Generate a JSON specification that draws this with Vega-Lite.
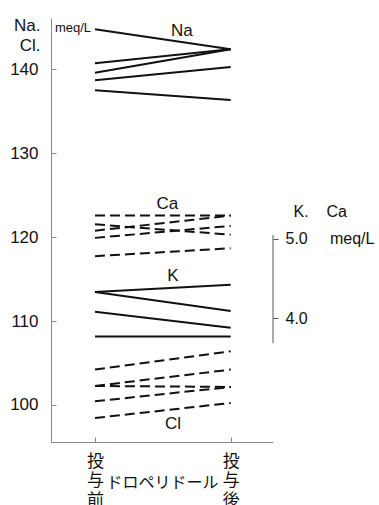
{
  "$schema": "https://vega.github.io/schema/vega-lite/v6.json",
  "width": 222,
  "height": 424,
  "autosize": "none",
  "padding": {"left": 51, "top": 18, "right": 106, "bottom": 63},
  "background": "white",
  "config": {
    "font": "Liberation Sans, Noto Sans CJK JP",
    "view": {"stroke": null},
    "axis": {"grid": false, "domainColor": "#888", "tickColor": "#888", "labelColor": "#111", "titleColor": "#111", "titleFontWeight": "normal"}
  },
  "datasets": {
    "left": [
      {"ion": "Na", "id": "Na1", "t": 0, "v": 144.77}, {"ion": "Na", "id": "Na1", "t": 1, "v": 142.39},
      {"ion": "Na", "id": "Na2", "t": 0, "v": 140.72}, {"ion": "Na", "id": "Na2", "t": 1, "v": 142.39},
      {"ion": "Na", "id": "Na3", "t": 0, "v": 139.59}, {"ion": "Na", "id": "Na3", "t": 1, "v": 142.39},
      {"ion": "Na", "id": "Na4", "t": 0, "v": 138.69}, {"ion": "Na", "id": "Na4", "t": 1, "v": 140.27},
      {"ion": "Na", "id": "Na5", "t": 0, "v": 137.5}, {"ion": "Na", "id": "Na5", "t": 1, "v": 136.34},
      {"ion": "Cl", "id": "Cl1", "t": 0, "v": 104.22}, {"ion": "Cl", "id": "Cl1", "t": 1, "v": 106.4},
      {"ion": "Cl", "id": "Cl2", "t": 0, "v": 102.27}, {"ion": "Cl", "id": "Cl2", "t": 1, "v": 104.22},
      {"ion": "Cl", "id": "Cl3", "t": 0, "v": 102.27}, {"ion": "Cl", "id": "Cl3", "t": 1, "v": 102.15},
      {"ion": "Cl", "id": "Cl4", "t": 0, "v": 100.44}, {"ion": "Cl", "id": "Cl4", "t": 1, "v": 102.15},
      {"ion": "Cl", "id": "Cl5", "t": 0, "v": 98.45}, {"ion": "Cl", "id": "Cl5", "t": 1, "v": 100.24}
    ],
    "right": [
      {"ion": "K", "id": "K1", "t": 0, "v": 4.33}, {"ion": "K", "id": "K1", "t": 1, "v": 4.42},
      {"ion": "K", "id": "K2", "t": 0, "v": 4.33}, {"ion": "K", "id": "K2", "t": 1, "v": 4.09},
      {"ion": "K", "id": "K3", "t": 0, "v": 4.08}, {"ion": "K", "id": "K3", "t": 1, "v": 3.88},
      {"ion": "K", "id": "K4", "t": 0, "v": 3.77}, {"ion": "K", "id": "K4", "t": 1, "v": 3.77},
      {"ion": "Ca", "id": "Ca1", "t": 0, "v": 5.29}, {"ion": "Ca", "id": "Ca1", "t": 1, "v": 5.29},
      {"ion": "Ca", "id": "Ca2", "t": 0, "v": 5.18}, {"ion": "Ca", "id": "Ca2", "t": 1, "v": 5.05},
      {"ion": "Ca", "id": "Ca3", "t": 0, "v": 5.1}, {"ion": "Ca", "id": "Ca3", "t": 1, "v": 5.29},
      {"ion": "Ca", "id": "Ca4", "t": 0, "v": 5.01}, {"ion": "Ca", "id": "Ca4", "t": 1, "v": 5.16},
      {"ion": "Ca", "id": "Ca5", "t": 0, "v": 4.78}, {"ion": "Ca", "id": "Ca5", "t": 1, "v": 4.88}
    ]
  },
  "layer": [
    {
      "layer": [
        {
          "data": {"name": "left"},
          "transform": [{"filter": "datum.ion == 'Na'"}],
          "mark": {"type": "line", "color": "#111", "strokeWidth": 2},
          "encoding": {
            "x": {
              "field": "t", "type": "quantitative",
              "scale": {"domain": [-0.324, 1.312], "nice": false, "zero": false},
              "axis": {
                "values": [0, 1],
                "labelExpr": "datum.value == 0 ? ['投','与','前'] : ['投','与','後']",
                "labelFontSize": 17, "labelLineHeight": 19.5, "labelFlush": false, "labelOverlap": false,
                "tickSize": -5, "labelPadding": 16,
                "title": "ドロペリドール", "titleFontSize": 16, "titleY": 40, "titleBaseline": "middle"
              }
            },
            "y": {
              "field": "v", "type": "quantitative",
              "scale": {"domain": [95.59, 146.12], "nice": false, "zero": false},
              "axis": {
                "values": [100, 110, 120, 130, 140], "labelFontSize": 17, "tickSize": -5, "labelPadding": 18,
                "title": ["Na.", "Cl."], "titleAngle": 0, "titleAlign": "right", "titleBaseline": "alphabetic",
                "titleX": -11, "titleY": 12, "titleFontSize": 17, "titleLineHeight": 20
              }
            },
            "detail": {"field": "id"}
          }
        },
        {
          "data": {"name": "left"},
          "transform": [{"filter": "datum.ion == 'Cl'"}],
          "mark": {"type": "line", "color": "#111", "strokeWidth": 2, "strokeDash": [10, 5]},
          "encoding": {
            "x": {"field": "t", "type": "quantitative"},
            "y": {"field": "v", "type": "quantitative"},
            "detail": {"field": "id"}
          }
        },
        {
          "data": {"values": [{"label": "Na"}]},
          "mark": {"type": "text", "fontSize": 17, "color": "#111"},
          "encoding": {"text": {"field": "label"}, "x": {"datum": 0.641, "type": "quantitative"}, "y": {"datum": 144.57, "type": "quantitative"}}
        },
        {
          "data": {"values": [{"label": "Ca"}]},
          "mark": {"type": "text", "fontSize": 17, "color": "#111"},
          "encoding": {"text": {"field": "label"}, "x": {"datum": 0.534, "type": "quantitative"}, "y": {"datum": 123.94, "type": "quantitative"}}
        },
        {
          "data": {"values": [{"label": "K"}]},
          "mark": {"type": "text", "fontSize": 17, "color": "#111"},
          "encoding": {"text": {"field": "label"}, "x": {"datum": 0.575, "type": "quantitative"}, "y": {"datum": 115.35, "type": "quantitative"}}
        },
        {
          "data": {"values": [{"label": "Cl"}]},
          "mark": {"type": "text", "fontSize": 17, "color": "#111"},
          "encoding": {"text": {"field": "label"}, "x": {"datum": 0.575, "type": "quantitative"}, "y": {"datum": 97.7, "type": "quantitative"}}
        },
        {
          "data": {"values": [{"label": "meq/L"}]},
          "mark": {"type": "text", "fontSize": 13, "color": "#111"},
          "encoding": {"text": {"field": "label"}, "x": {"datum": -0.162, "type": "quantitative"}, "y": {"datum": 144.98, "type": "quantitative"}}
        }
      ]
    },
    {
      "layer": [
        {
          "data": {"name": "right"},
          "transform": [{"filter": "datum.ion == 'K'"}],
          "mark": {"type": "line", "color": "#111", "strokeWidth": 2},
          "encoding": {
            "x": {"field": "t", "type": "quantitative"},
            "y": {
              "field": "v", "type": "quantitative",
              "scale": {"domain": [2.444, 7.774], "nice": false, "zero": false},
              "axis": {
                "orient": "right", "values": [4, 5], "domain": false, "tickColor": "#555", "tickSize": 5, "labelPadding": 7,
                "labelExpr": "datum.value == 5 ? '5.0\u00a0\u00a0\u00a0\u00a0\u00a0meq/L' : '4.0'",
                "labelFontSize": 16, "labelAlign": "left", "labelBaseline": "middle",
                "title": "K.\u00a0\u00a0\u00a0\u00a0Ca", "titleAngle": 0, "titleAlign": "left", "titleBaseline": "alphabetic",
                "titleX": 20, "titleY": 198, "titleFontSize": 16
              }
            },
            "detail": {"field": "id"}
          }
        },
        {
          "data": {"name": "right"},
          "transform": [{"filter": "datum.ion == 'Ca'"}],
          "mark": {"type": "line", "color": "#111", "strokeWidth": 2, "strokeDash": [10, 5]},
          "encoding": {
            "x": {"field": "t", "type": "quantitative"},
            "y": {"field": "v", "type": "quantitative"},
            "detail": {"field": "id"}
          }
        },
        {
          "data": {"values": [{"label": "axis"}]},
          "mark": {"type": "rule", "color": "#555", "strokeWidth": 1},
          "encoding": {
            "x": {"datum": 1.312, "type": "quantitative"},
            "y": {"datum": 3.686, "type": "quantitative"},
            "y2": {"datum": 5.044}
          }
        }
      ]
    }
  ],
  "resolve": {"scale": {"y": "independent"}}
}
